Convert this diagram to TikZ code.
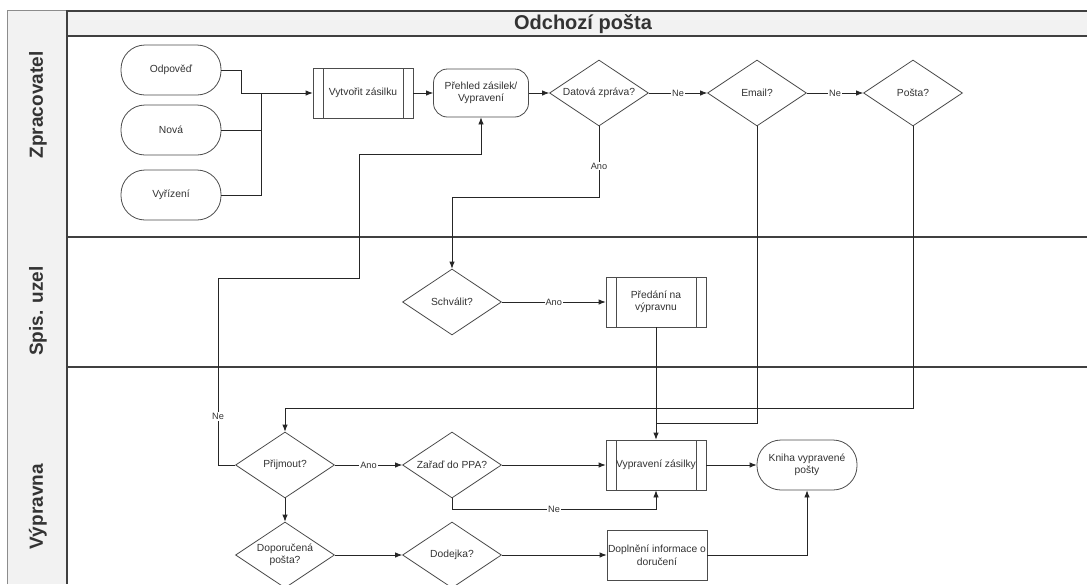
\documentclass[tikz,border=0pt]{standalone}
\usepackage{fontspec}
\setmainfont{Liberation Sans}
\usetikzlibrary{shapes.geometric,arrows.meta}
\begin{document}
\begin{tikzpicture}[x=1pt,y=-1pt,
  every node/.style={font=\fontsize{10.3}{12.5}\selectfont, text=black!80, align=center},
  shp/.style={draw=black!70, line width=0.8pt, fill=white, inner sep=1pt},
  term/.style={shp, rectangle, rounded corners=24pt, minimum width=100pt, minimum height=50pt},
  roundbox/.style={shp, rectangle, rounded corners=14pt, minimum width=95pt, minimum height=48pt},
  plainbox/.style={shp, rectangle, minimum width=100pt, minimum height=50pt},
  proc/.style={shp, rectangle, minimum width=100pt, minimum height=50pt,
    path picture={\draw[black!70, line width=0.8pt]
      ([xshift=10pt]path picture bounding box.north west) -- ([xshift=10pt]path picture bounding box.south west)
      ([xshift=-10pt]path picture bounding box.north east) -- ([xshift=-10pt]path picture bounding box.south east);}},
  dec/.style={shp, diamond, aspect=1.5, inner sep=0pt, minimum width=99pt, minimum height=66pt},
  ln/.style={draw=black!85, line width=0.8pt},
  arr/.style={ln, -{Latex[length=7pt,width=5.5pt]}},
  lbl/.style={font=\fontsize{9.2}{10}\selectfont, fill=white, inner sep=1pt},
  lanelbl/.style={font=\fontsize{19}{22}\selectfont\bfseries, text=black!80, rotate=90},
  laneline/.style={draw=black!75, line width=1.6pt}
]
\useasboundingbox (0,0) rectangle (1087,584);
% pool background
\fill[black!5] (7,10) rectangle (67,584);
\draw[black!45, line width=0.8pt] (7,584) -- (7,10) -- (67,10);
\fill[black!5] (67,11) rectangle (1087,36);
\draw[laneline] (67,11) -- (1087,11);
\draw[laneline] (67,36) -- (1087,36);
\draw[laneline] (67,237) -- (1087,237);
\draw[laneline] (67,367) -- (1087,367);
\draw[laneline] (67,10) -- (67,584);
\node[font=\fontsize{20}{22}\selectfont\bfseries, text=black!80] (title) at (583,24) {Odchozí pošta};
\node[lanelbl] (lz) at (38,105) {Zpracovatel};
\node[lanelbl] (ls) at (38,311) {Spis. uzel};
\node[lanelbl] (lv) at (38,507) {Výpravna};

% nodes - Zpracovatel
\node[term] (odp) at (171,70) {Odpověď};
\node[term] (nova) at (171,130) {Nová};
\node[term] (vyr) at (171,195) {Vyřízení};
\node[proc] (vyt) at (363,93) {Vytvořit zásilku};
\node[roundbox] (preh) at (481,93) {Přehled zásilek/\\Vypravení};
\node[dec] (dat) at (599,93) {Datová zpráva?};
\node[dec] (email) at (757,93) {Email?};
\node[dec] (posta) at (913,93) {Pošta?};
% Spis. uzel
\node[dec] (schv) at (452,302) {Schválit?};
\node[proc] (pred) at (656,302) {Předání na\\výpravnu};
% Výpravna
\node[dec] (prij) at (285,465) {Přijmout?};
\node[dec] (zar) at (452,465) {Zařaď do PPA?};
\node[proc] (vyp) at (656,465) {Vypravení zásilky};
\node[term] (kniha) at (807,465) {Kniha vypravené\\pošty};
\node[dec] (dop) at (285,555) {Doporučená\\pošta?};
\node[dec] (dod) at (452,555) {Dodejka?};
\node[plainbox] (dopl) at (657,555) {Doplnění informace o\\doručení};

% coordinates
\coordinate (j1) at (261,93);
\coordinate (a1) at (599,197);
\coordinate (n1) at (218,278);
\coordinate (n2) at (359,154);
\coordinate (e1) at (656,423);
\coordinate (p1) at (285,408);

% connectors
\draw[arr] (odp.east) -- ++(20,0) |- (vyt.west);
\draw[ln] (nova.east) -| (j1);
\draw[ln] (vyr.east) -| (j1);
\draw[arr] (vyt) -- (preh);
\draw[arr] (preh) -- (dat);
\draw[arr] (dat) -- node[lbl] (lne1) {Ne} (email);
\draw[arr] (email) -- node[lbl] (lne2) {Ne} (posta);
\draw[arr] (dat.south) -- node[lbl, pos=0.56] (lano1) {Ano} (a1) -| (schv.north);
\draw[arr] (schv) -- node[lbl] (lano2) {Ano} (pred);
\draw[arr] (pred) -- (vyp);
\draw[ln] (email.south) |- (e1);
\draw[arr] (posta.south) |- (p1) -- (prij.north);
\draw[arr] (prij.west) -| node[lbl, pos=0.63] (lne3) {Ne} (n1) -| (n2) -| (preh.south);
\draw[arr] (prij) -- node[lbl] (lano3) {Ano} (zar);
\draw[arr] (zar) -- (vyp);
\draw[arr] (zar.south) -- ++(0,11) -| node[lbl, pos=0.25] (lne4) {Ne} (vyp.south);
\draw[arr] (prij) -- (dop);
\draw[arr] (dop) -- (dod);
\draw[arr] (dod) -- (dopl);
\draw[arr] (vyp) -- (kniha);
\draw[arr] (dopl.east) -| (kniha.south);
\end{tikzpicture}
\end{document}
